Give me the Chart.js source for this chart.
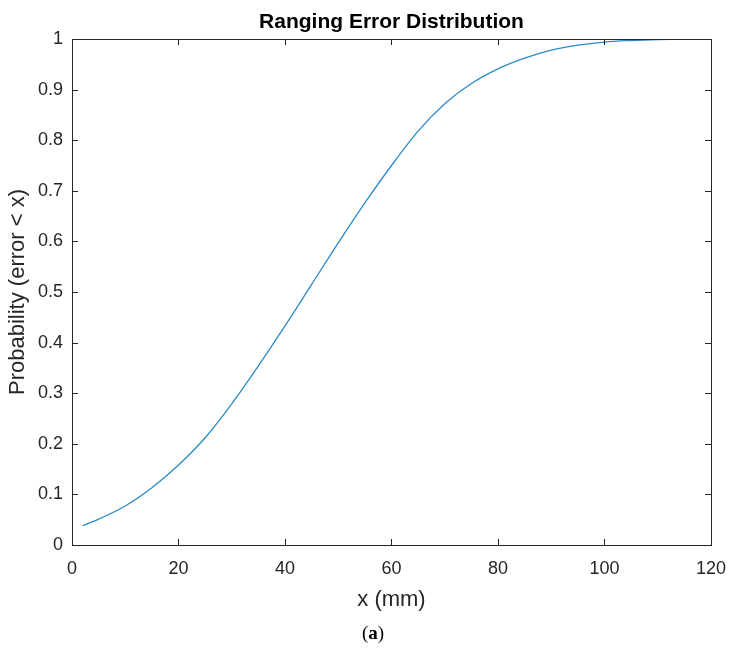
<!DOCTYPE html>
<html>
<head>
<meta charset="utf-8">
<script src="https://cdn.jsdelivr.net/npm/chart.js@4/dist/chart.umd.min.js"></script>
<style>
  html, body { margin: 0; padding: 0; background: #fff; }
  #wrap { width: 739px; height: 650px; }
</style>
</head>
<body>
<div id="wrap"><canvas id="myChart" width="739" height="650"></canvas></div>
<script>
// error values (mm) and cumulative probability
const errorMm = [2, 5, 10, 15, 20, 25, 30, 35, 40, 45, 50, 55, 60, 65, 70, 75, 80, 85, 90, 95, 100, 105, 110, 115, 120];
const probability = [0.038, 0.051, 0.077, 0.113, 0.158, 0.212, 0.279, 0.354, 0.433, 0.515, 0.597, 0.676, 0.750, 0.818, 0.872, 0.912, 0.941, 0.962, 0.978, 0.988, 0.994, 0.997, 0.999, 1.0, 1.0];
const xTicks = [0, 20, 40, 60, 80, 100, 120];
const yTicks = [0, 0.1, 0.2, 0.3, 0.4, 0.5, 0.6, 0.7, 0.8, 0.9, 1];

const titleText = 'Ranging Error Distribution';
const xLabel = 'x (mm)';
const yLabel = 'Probability (error < x)';

const SANS = '"Liberation Sans", Arial, Helvetica, sans-serif';
const SERIF = '"Liberation Serif", "DejaVu Serif", serif';

// box round the plot, ticks pointing inwards, and the extra texts
const matlabAxes = {
  id: 'matlabAxes',
  afterDraw(chart) {
    const ctx = chart.ctx;
    const a = chart.chartArea;
    const xs = chart.scales.x;
    const ys = chart.scales.y;
    const tl = 6;
    ctx.save();
    ctx.strokeStyle = '#262626';
    ctx.lineWidth = 1;
    ctx.strokeRect(Math.round(a.left) + 0.5, Math.round(a.top) + 0.5,
      Math.round(a.right - a.left), Math.round(a.bottom - a.top));
    ctx.beginPath();
    xTicks.forEach(v => {
      const px = Math.round(xs.getPixelForValue(v)) + 0.5;
      ctx.moveTo(px, a.bottom); ctx.lineTo(px, a.bottom - tl);
      ctx.moveTo(px, a.top); ctx.lineTo(px, a.top + tl);
    });
    yTicks.forEach(v => {
      const py = Math.round(ys.getPixelForValue(v)) + 0.5;
      ctx.moveTo(a.left, py); ctx.lineTo(a.left + tl, py);
      ctx.moveTo(a.right, py); ctx.lineTo(a.right - tl, py);
    });
    ctx.stroke();

    const cx = (a.left + a.right) / 2;
    ctx.fillStyle = '#000';
    ctx.font = 'bold 21px ' + SANS;
    ctx.textAlign = 'center';
    ctx.textBaseline = 'alphabetic';
    ctx.fillText(titleText, cx, 28);

    ctx.fillStyle = '#262626';
    ctx.font = '22px ' + SANS;
    ctx.textBaseline = 'middle';
    ctx.fillText(xLabel, cx, 600);

    ctx.save();
    ctx.translate(18, (a.top + a.bottom) / 2);
    ctx.rotate(-Math.PI / 2);
    ctx.fillText(yLabel, 0, 0);
    ctx.restore();

    // "(a)" with a bold letter
    ctx.fillStyle = '#000';
    const parts = [['(', '19px ' + SERIF], ['a', 'bold 19px ' + SERIF], [')', '19px ' + SERIF]];
    let w = 0;
    parts.forEach(p => { ctx.font = p[1]; w += ctx.measureText(p[0]).width; });
    let x0 = 373 - w / 2;
    ctx.textAlign = 'left';
    parts.forEach(p => {
      ctx.font = p[1];
      ctx.fillText(p[0], x0, 634);
      x0 += ctx.measureText(p[0]).width;
    });
    ctx.restore();
  }
};

const myChart = new Chart(document.getElementById('myChart'), {
  type: 'line',
  data: {
    datasets: [{
      data: errorMm.map((x, i) => ({ x: x, y: probability[i] })),
      borderColor: '#2a8bc8',
      borderWidth: 1.3,
      pointRadius: 0,
      fill: false,
      cubicInterpolationMode: 'monotone'
    }]
  },
  options: {
    responsive: false,
    animation: false,
    layout: { padding: { left: 0, top: 39, right: 27, bottom: 0 } },
    plugins: {
      legend: { display: false },
      title: { display: false },
      tooltip: { enabled: false }
    },
    scales: {
      x: {
        type: 'linear',
        min: 0,
        max: 120,
        afterFit: s => { s.height = 105; },
        afterBuildTicks: s => { s.ticks = xTicks.map(v => ({ value: v })); },
        grid: { display: false, drawTicks: false },
        border: { display: false },
        ticks: { color: '#262626', font: { family: SANS, size: 18 }, padding: 13, maxRotation: 0 }
      },
      y: {
        type: 'linear',
        min: 0,
        max: 1,
        afterFit: s => { s.width = 72; },
        afterBuildTicks: s => { s.ticks = yTicks.map(v => ({ value: v })); },
        grid: { display: false, drawTicks: false },
        border: { display: false },
        ticks: {
          color: '#262626',
          font: { family: SANS, size: 18 },
          padding: 9,
          callback: v => String(+v.toFixed(1))
        }
      }
    }
  },
  plugins: [matlabAxes]
});
</script>
</body>
</html>
